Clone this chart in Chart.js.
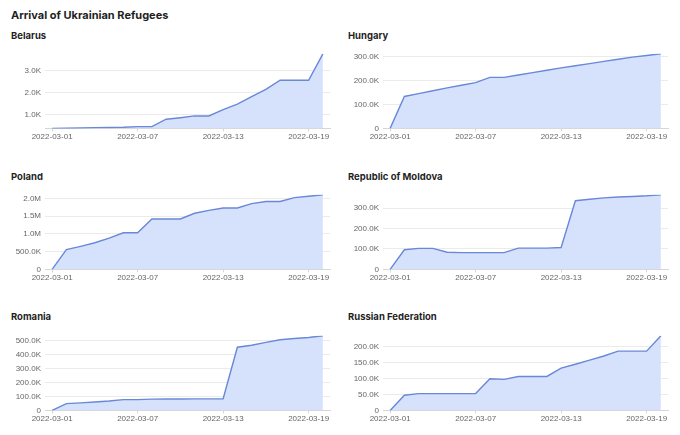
<!DOCTYPE html>
<html>
<head>
<meta charset="utf-8">
<script src="https://cdn.jsdelivr.net/npm/chart.js@4.4.0/dist/chart.umd.min.js"></script>
<style>
  html, body { margin: 0; padding: 0; background: #ffffff; }
  body { width: 680px; height: 435px; position: relative; overflow: hidden; font-family: Inter, "Noto Sans", sans-serif; }
  .main-title { position: absolute; left: 11px; top: 7px; font-size: 11px; font-weight: 700; color: #1f1f1f; line-height: 16px; }
  .panel-title { position: absolute; font-size: 9.5px; font-weight: 700; color: #1f1f1f; line-height: 14px; }
  .panel { position: absolute; width: 340px; height: 100px; }
</style>
</head>
<body>
<div class="main-title">Arrival of Ukrainian Refugees</div>

<script>
// ---- data ----
const dates = [
  "2022-03-01","2022-03-02","2022-03-03","2022-03-04","2022-03-05",
  "2022-03-06","2022-03-07","2022-03-08","2022-03-09","2022-03-10",
  "2022-03-11","2022-03-12","2022-03-13","2022-03-14","2022-03-15",
  "2022-03-16","2022-03-17","2022-03-18","2022-03-19","2022-03-20"
];
const countries = ["Belarus", "Hungary", "Poland", "Republic of Moldova", "Romania", "Russian Federation"];

const belarus = [360, 370, 380, 395, 400, 410, 440, 440, 780, 850, 930, 930, 1220, 1470, 1810, 2140, 2560, 2560, 2560, 3770];
const hungary = [0, 134000, 146000, 158000, 170000, 181000, 192000, 214000, 214000, 224000, 234000, 244000, 254000, 263000, 272000, 281000, 290000, 299000, 306000, 313000];
const poland = [0, 555000, 650000, 750000, 880000, 1030000, 1030000, 1420000, 1420000, 1420000, 1580000, 1660000, 1730000, 1730000, 1850000, 1910000, 1910000, 2020000, 2060000, 2100000];
const moldova = [0, 96000, 103000, 103000, 84000, 82000, 82000, 82000, 82000, 104000, 104000, 104000, 107000, 336000, 343000, 350000, 354000, 357000, 360000, 365000];
const romania = [0, 49000, 54000, 60000, 67000, 77000, 77000, 81000, 82000, 82000, 83000, 83000, 84000, 453000, 467000, 488000, 507000, 516000, 523000, 535000];
const russia = [0, 47500, 52500, 52500, 52500, 52500, 52500, 99000, 97000, 106000, 106000, 106000, 132000, 144000, 157000, 170000, 185000, 185000, 185000, 233000];

const seriesList = [belarus, hungary, poland, moldova, romania, russia];
const yStepSizes = [1000, 100000, 500000, 100000, 100000, 50000];
const xTickEvery = 6;

// ---- style ----
const LINE_COLOR = '#6a88d8';
const FILL_COLOR = 'rgba(214, 225, 251, 1)';
const GRID_COLOR = '#ebebeb';
const AXIS_COLOR = '#d6d6d6';
const TICK_COLOR = '#666666';
const TICK_FONT = { family: '"Liberation Sans", Arial, sans-serif', size: 8 };

function fmt(v) {
  if (v === 0) return '0';
  if (Math.abs(v) >= 1e6) return (v / 1e6).toFixed(1) + 'M';
  return (v / 1e3).toFixed(1) + 'K';
}

const rowTops = [45, 185.5, 326.5];
const titleTops = [29, 169.5, 310];

countries.forEach((name, i) => {
  const col = i % 2, row = Math.floor(i / 2);
  const t = document.createElement('div');
  t.className = 'panel-title';
  t.textContent = name;
  t.style.left = (col === 0 ? 11 : 348) + 'px';
  t.style.top = titleTops[row] + 'px';
  document.body.appendChild(t);

  const wrap = document.createElement('div');
  wrap.className = 'panel';
  wrap.style.left = (col * 340) + 'px';
  wrap.style.top = rowTops[row] + 'px';
  const cv = document.createElement('canvas');
  wrap.appendChild(cv);
  document.body.appendChild(wrap);

  const values = seriesList[i];
  const step = yStepSizes[i];
  const yMin = Math.min(...values);
  const yMax = Math.max(...values);
  const yAxisWidth = col === 0 ? 45 : 43;

  new Chart(cv, {
    type: 'line',
    data: {
      labels: dates,
      datasets: [{
        data: values,
        borderColor: LINE_COLOR,
        backgroundColor: FILL_COLOR,
        borderWidth: 1.4,
        fill: 'start',
        pointRadius: 0,
        pointHoverRadius: 0,
        tension: 0
      }]
    },
    options: {
      responsive: true,
      maintainAspectRatio: false,
      animation: false,
      events: [],
      layout: { padding: { top: 6, right: col === 0 ? 10 : 12, bottom: 2, left: 0 } },
      plugins: { legend: { display: false }, title: { display: false }, tooltip: { enabled: false } },
      scales: {
        x: {
          type: 'category',
          offset: true,
          grid: { display: true, drawOnChartArea: false, drawTicks: true, tickLength: 3, offset: false, color: AXIS_COLOR },
          border: { display: true, color: AXIS_COLOR, width: 1 },
          afterBuildTicks: (scale) => { scale.ticks = scale.ticks.filter(tk => tk.value % xTickEvery === 0); },
          ticks: {
            autoSkip: false, maxRotation: 0, minRotation: 0, padding: 1,
            color: TICK_COLOR, font: TICK_FONT,
            callback: function (v) { return this.getLabelForValue(v); }
          }
        },
        y: {
          min: yMin,
          max: yMax,
          grid: { color: GRID_COLOR, drawTicks: false },
          border: { display: false },
          afterFit: (scale) => { scale.width = yAxisWidth; },
          afterBuildTicks: (scale) => {
            const ticks = [];
            for (let v = Math.ceil(yMin / step) * step; v <= yMax; v += step) ticks.push({ value: v });
            scale.ticks = ticks;
          },
          ticks: { autoSkip: false, padding: 4, color: TICK_COLOR, font: TICK_FONT, callback: (v) => fmt(v) }
        }
      }
    }
  });
});
</script>
</body>
</html>
